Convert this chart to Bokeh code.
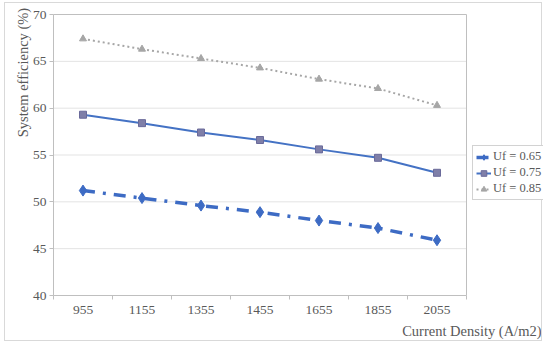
import math
from bokeh.plotting import figure
from bokeh.models import Legend, LegendItem, Label, Range1d, FixedTicker
from bokeh.embed import file_html
from bokeh.resources import INLINE

densities = ["955", "1155", "1355", "1455", "1655", "1855", "2055"]
uf065 = [51.2, 50.4, 49.6, 48.9, 48.0, 47.2, 45.9]
uf075 = [59.3, 58.4, 57.4, 56.6, 55.6, 54.7, 53.1]
uf085 = [67.4, 66.3, 65.3, 64.3, 63.1, 62.1, 60.3]
y_ticks = [40, 45, 50, 55, 60, 65, 70]

FONT = "Liberation Serif"
GRAY = "#595959"
LINE = "#bfbfbf"

n = len(densities)
xs = list(range(n))
x_lo, x_hi = -0.5, n - 0.5
y_lo, y_hi = y_ticks[0], y_ticks[-1]

# layout of the plot box inside the 538x339 canvas (pixels)
W, H = 538, 339
BOX_L, BOX_R, BOX_T, BOX_B = 48, 461, 11, 292
xpp = (x_hi - x_lo) / (BOX_R - BOX_L)
ypp = (y_hi - y_lo) / (BOX_B - BOX_T)

p = figure(width=W, height=H,
           x_range=Range1d(x_lo - BOX_L * xpp, x_hi + (W - BOX_R) * xpp),
           y_range=Range1d(y_lo - (H - BOX_B) * ypp, y_hi + BOX_T * ypp),
           output_backend="svg", toolbar_location=None,
           min_border_left=0, min_border_right=0, min_border_top=0, min_border_bottom=0)
p.styles = {"border": "1px solid #d9d9d9", "margin-left": "4px", "margin-top": "2px"}
p.outline_line_color = None
p.background_fill_color = "white"
p.border_fill_color = "white"
p.xgrid.grid_line_color = None
p.ygrid.grid_line_color = None

# plot-area grid and box
p.segment(x0=x_lo, x1=x_hi, y0=y_ticks[1:-1], y1=y_ticks[1:-1], line_color="#e3e3e3", line_width=1)
p.segment(x0=x_lo, x1=x_hi, y0=y_hi, y1=y_hi, line_color=LINE, line_width=1)
p.segment(x0=x_hi, x1=x_hi, y0=y_lo, y1=y_hi, line_color=LINE, line_width=1)

xa = p.xaxis[0]
xa.fixed_location = y_lo
xa.bounds = (x_lo, x_hi)
xa.ticker = FixedTicker(ticks=xs, minor_ticks=[x + 0.5 for x in [x_lo - 0.5] + xs])
xa.major_label_overrides = {i: d for i, d in zip(xs, densities)}
xa.major_tick_line_color = None
xa.minor_tick_line_color = LINE
xa.minor_tick_in = 0
xa.minor_tick_out = 4
xa.major_label_standoff = 4

ya = p.yaxis[0]
ya.fixed_location = x_lo
ya.bounds = (y_lo, y_hi)
ya.ticker = FixedTicker(ticks=y_ticks)
ya.minor_tick_line_color = None
ya.major_tick_line_color = LINE
ya.major_tick_in = 0
ya.major_tick_out = 4
ya.major_label_standoff = 3

for ax in (xa, ya):
    ax.axis_line_color = LINE
    ax.major_label_text_font = FONT
    ax.major_label_text_font_size = "13.5px"
    ax.major_label_text_color = GRAY

r1l = p.line(xs, uf065, line_color="#3d6bc4", line_width=3.5, line_dash="12 8 3 8")
r1m = p.scatter(xs, uf065, marker="diamond", size=11, fill_color="#3d6bc4", line_color="#3d6bc4")
r2l = p.line(xs, uf075, line_color="#4472c4", line_width=2)
r2m = p.scatter(xs, uf075, marker="square", size=7, fill_color="#7f7fa8", line_color="#6a6a9a")
r3l = p.line(xs, uf085, line_color="#a6a6a6", line_width=2, line_dash="2 3")
r3m = p.scatter(xs, uf085, marker="triangle", size=7, fill_color="#a6a6a6", line_color="#a6a6a6")

legend = Legend(items=[LegendItem(label="Uf = 0.65", renderers=[r1l, r1m]),
                       LegendItem(label="Uf = 0.75", renderers=[r2l, r2m]),
                       LegendItem(label="Uf = 0.85", renderers=[r3l, r3m])],
                location=(467, 142), orientation="vertical")
legend.label_text_font = FONT
legend.label_text_font_size = "12.5px"
legend.label_text_color = GRAY
legend.border_line_color = "#a6a6a6"
legend.background_fill_alpha = 1
legend.glyph_width = 15
legend.glyph_height = 14
legend.label_standoff = 2
legend.padding = 3
legend.spacing = 1
legend.margin = 0
legend.label_height = 14
p.add_layout(legend, "center")

xt = Label(x=x_hi, y=y_lo - 35 * ypp, x_offset=75, text="Current Density (A/m2)",
           text_align="right", text_baseline="middle", text_font=FONT,
           text_font_size="14.5px", text_color=GRAY)
p.add_layout(xt)

yt = Label(x=x_lo - (BOX_L - 17) * xpp, y=y_hi - (69 - BOX_T) * ypp, angle=math.pi / 2,
           text="System efficiency (%)", text_align="center", text_baseline="middle",
           text_font=FONT, text_font_size="14.5px", text_color=GRAY)
p.add_layout(yt)

open("out.html", "w").write(file_html(p, INLINE))
